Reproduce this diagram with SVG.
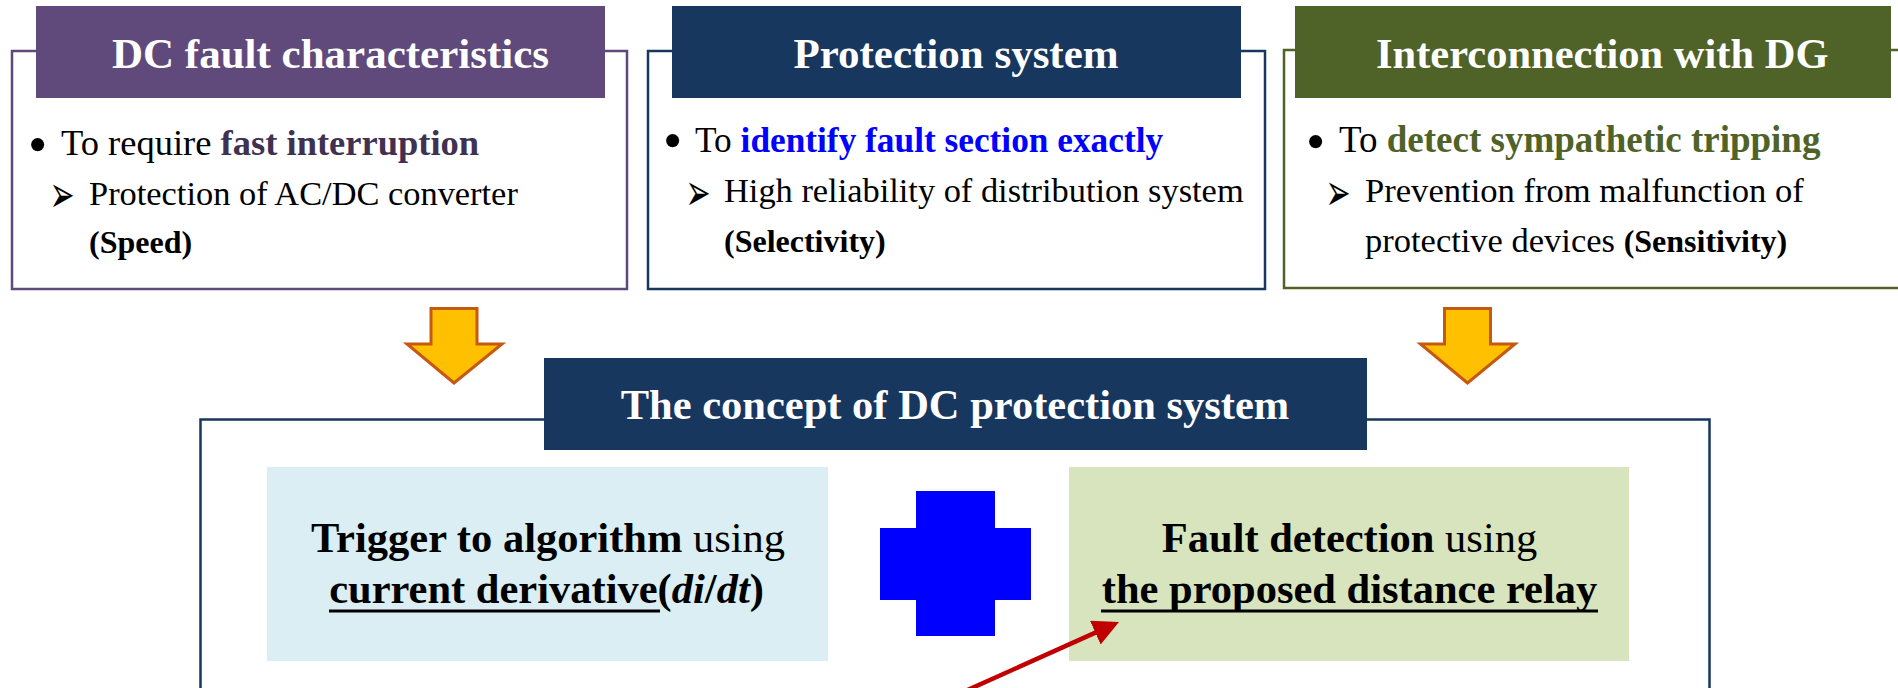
<svg xmlns="http://www.w3.org/2000/svg" width="1898" height="688" viewBox="0 0 1898 688">
  <style>
    text { font-family: "Liberation Serif", "Times New Roman", serif; fill: #000; }
    .title { font-size: 43px; font-weight: bold; fill: #fff; }
    .lead { font-size: 36.5px; }
    .dot { font-size: 55px; }
    .sub { font-size: 34.4px; }
    .tag { font-size: 32px; font-weight: bold; }
    .b { font-weight: bold; }
    .mark { font-family: "DejaVu Sans", sans-serif; font-size: 44px; }
    .inner { font-size: 42.5px; text-anchor: middle; }
    .rule { stroke: #000; stroke-width: 3; }
    .frame { fill: none; stroke-width: 2.5; }
    .down { fill: #FFC000; stroke: #C65911; stroke-width: 3; stroke-linejoin: miter; }
  </style>
  <defs>
    <marker id="redHead" markerUnits="userSpaceOnUse" viewBox="0 0 26 26" markerWidth="26" markerHeight="26" refX="16" refY="13" orient="auto">
      <path d="M0,0 L26,13 L0,26 Z" fill="#C00000"/>
    </marker>
  </defs>

  <rect width="1898" height="688" fill="#fff"/>

  <!-- DC fault characteristics -->
  <g id="dc-fault">
    <rect class="frame" x="12" y="51" width="615" height="238" stroke="#5F497A"/>
    <rect x="36" y="6" width="569" height="92" fill="#604A7B"/>
    <text class="title" x="112" y="68">DC fault characteristics</text>
    <text class="dot" x="28" y="163">•</text>
    <text class="lead" x="61" y="155">To require <tspan class="b" fill="#403152">fast interruption</tspan></text>
    <text class="mark" transform="matrix(0.68 0 0 1.17 49.6 211.7)">➢</text>
    <text class="sub" x="89" y="205">Protection of AC/DC converter</text>
    <text class="tag" x="89" y="253">(Speed)</text>
  </g>

  <!-- Protection system -->
  <g id="protection">
    <rect class="frame" x="648" y="51" width="617" height="238" stroke="#17375E"/>
    <rect x="672" y="6" width="569" height="92" fill="#17375E"/>
    <text class="title" x="956" y="68" text-anchor="middle">Protection system</text>
    <text class="dot" x="663" y="159">•</text>
    <text class="lead" x="695" y="152" style="font-size:35.3px">To <tspan class="b" fill="#0000FF">identify fault section exactly</tspan></text>
    <text class="mark" transform="matrix(0.68 0 0 1.17 685.6 210.2)">➢</text>
    <text class="sub" x="724" y="202">High reliability of distribution system</text>
    <text class="tag" x="724" y="252">(Selectivity)</text>
  </g>

  <!-- Interconnection with DG -->
  <g id="interconnection">
    <rect class="frame" x="1284" y="50" width="630" height="238" stroke="#4F6228"/>
    <rect x="1295" y="6" width="596" height="92" fill="#4F6228"/>
    <text class="title" x="1376" y="68" style="font-size:42.5px">Interconnection with DG</text>
    <text class="dot" x="1306" y="160">•</text>
    <text class="lead" x="1339" y="152" style="font-size:37px">To <tspan class="b" fill="#4F6228">detect sympathetic tripping</tspan></text>
    <text class="mark" transform="matrix(0.68 0 0 1.17 1325.6 210.2)">➢</text>
    <text class="sub" x="1365" y="202" style="font-size:34.6px">Prevention from malfunction of</text>
    <text class="sub" x="1365" y="252" style="font-size:34.5px">protective devices <tspan class="b" style="font-size:32px">(Sensitivity)</tspan></text>
  </g>

  <!-- Down arrows feeding the concept box -->
  <g id="arrow-left">
    <polygon class="down" points="431,308.5 477,308.5 477,344 502,344 454,383 407,344 431,344"/>
  </g>
  <g id="arrow-right">
    <polygon class="down" points="1444.5,308.5 1490.5,308.5 1490.5,344 1515,344 1467.5,383 1420.5,344 1444.5,344"/>
  </g>

  <!-- The concept of DC protection system -->
  <g id="concept">
    <rect class="frame" x="200.5" y="419.5" width="1509" height="300" stroke="#17375E"/>
    <rect x="544" y="358" width="823" height="92" fill="#17375E"/>
    <text class="title" x="955" y="419" text-anchor="middle" style="font-size:42.5px">The concept of DC protection system</text>
  </g>

  <g id="trigger">
    <rect x="267" y="467" width="561" height="194" fill="#DAEEF3"/>
    <text class="inner" x="548" y="552"><tspan class="b">Trigger to algorithm</tspan> using</text>
    <text class="inner b" x="546.5" y="603">current derivative(<tspan font-style="italic">di</tspan>/<tspan font-style="italic">dt</tspan>)</text>
    <line class="rule" x1="329" y1="611" x2="660" y2="611"/>
  </g>

  <g id="plus">
    <polygon points="916,491 995,491 995,528 1031,528 1031,600 995,600 995,636 916,636 916,600 880,600 880,528 916,528" fill="#0000FF"/>
  </g>

  <g id="fault-detection">
    <rect x="1069" y="467" width="560" height="194" fill="#D7E4BD"/>
    <text class="inner" x="1349.5" y="552"><tspan class="b">Fault detection</tspan> using</text>
    <text class="inner b" x="1349.5" y="603">the proposed distance relay</text>
    <line class="rule" x1="1101" y1="611" x2="1598" y2="611"/>
  </g>

  <!-- Connectors -->
  <g id="connectors">
    <line x1="935.5" y1="704.4" x2="1109.9" y2="626.1" stroke="#C00000" stroke-width="4.5" marker-end="url(#redHead)"/>
  </g>
</svg>
